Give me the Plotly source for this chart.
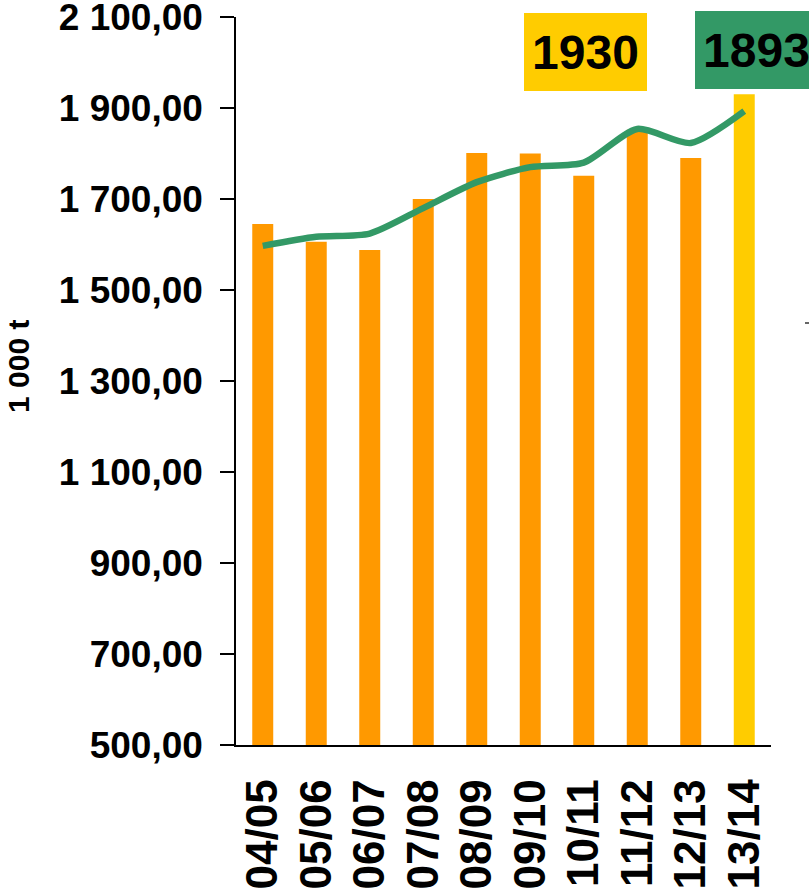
import plotly.graph_objects as go

categories = ["04/05", "05/06", "06/07", "07/08", "08/09", "09/10", "10/11", "11/12", "12/13", "13/14"]
production = [1645, 1606, 1588, 1700, 1801, 1800, 1751, 1852, 1790, 1930]
trend = [1597, 1617, 1624, 1680, 1737, 1770, 1780, 1854, 1823, 1893]
bar_colors = ["#FF9900"] * 9 + ["#FFCC00"]
y_ticks = [500, 700, 900, 1100, 1300, 1500, 1700, 1900, 2100]
y_title = "1 000 t"

FONT = "Liberation Sans, Arial, sans-serif"

fig = go.Figure()
fig.add_trace(go.Bar(x=categories, y=production, marker=dict(color=bar_colors, line=dict(width=0)),
                     showlegend=False))
fig.add_trace(go.Scatter(x=categories, y=trend, mode="lines",
                         line=dict(color="#339966", width=6.5, shape="spline", smoothing=0.7),
                         showlegend=False, cliponaxis=False))

L, R, T, B = 236, 38, 17, 151
W, H = 809, 896
pw = W - L - R
ph = H - T - B

def px_x(p):
    return (p - L) / pw

def px_y(p):
    return (H - B - p) / ph

fig.update_layout(
    width=W, height=H,
    margin=dict(l=L, r=R, t=T, b=B, pad=0, autoexpand=False),
    paper_bgcolor="white", plot_bgcolor="white",
    separators=", ",
    bargap=0.608,
    font=dict(family=FONT, color="black"),
    xaxis=dict(
        automargin=False,
        tickmode="array", tickvals=categories,
        showline=True, linecolor="black", linewidth=1.5,
        ticks="", tickangle=-90,
        tickfont=dict(family=FONT, size=44, weight="bold", color="black"),
        ticklabelstandoff=15, ticklabeloverflow="allow",
        showgrid=False, zeroline=False,
    ),
    yaxis=dict(
        automargin=False,
        range=[500, 2100], tickvals=y_ticks, tickformat=",.2f",
        showline=True, linecolor="black", linewidth=1.5,
        ticks="outside", ticklen=14, tickwidth=1.5, tickcolor="black",
        tickfont=dict(family=FONT, size=37, weight="bold", color="black"),
        ticklabelstandoff=10, ticklabeloverflow="allow",
        showgrid=False, zeroline=False,
    ),
    annotations=[
        dict(text=y_title, xref="paper", yref="paper", x=px_x(19), y=px_y(367),
             xanchor="center", yanchor="middle",
             showarrow=False, textangle=-90,
             font=dict(family=FONT, size=30, weight="bold", color="black")),
        dict(text=str(production[-1]), xref="paper", yref="paper", x=px_x(585.5), y=px_y(52),
             xanchor="center", yanchor="middle",
             showarrow=False, bgcolor="#FFCC00", borderpad=0, borderwidth=0,
             width=123, height=78,
             font=dict(family=FONT, size=48, weight="bold", color="black")),
        dict(text=str(trend[-1]), xref="paper", yref="paper", x=px_x(756), y=px_y(50),
             xanchor="center", yanchor="middle",
             showarrow=False, bgcolor="#339966", borderpad=0, borderwidth=0,
             width=123, height=78,
             font=dict(family=FONT, size=48, weight="bold", color="black")),
    ],
    shapes=[
        dict(type="line", xref="paper", yref="paper", x0=px_x(220), x1=0, y0=0, y1=0,
             line=dict(color="black", width=1.5)),
        dict(type="line", xref="paper", yref="paper", x0=px_x(805), x1=px_x(809),
             y0=px_y(323), y1=px_y(323), line=dict(color="#333333", width=1.5)),
    ],
)

fig.write_html("out.html", config={"displayModeBar": False},
               post_script="document.body.style.margin='0';document.body.style.overflow='hidden';")
